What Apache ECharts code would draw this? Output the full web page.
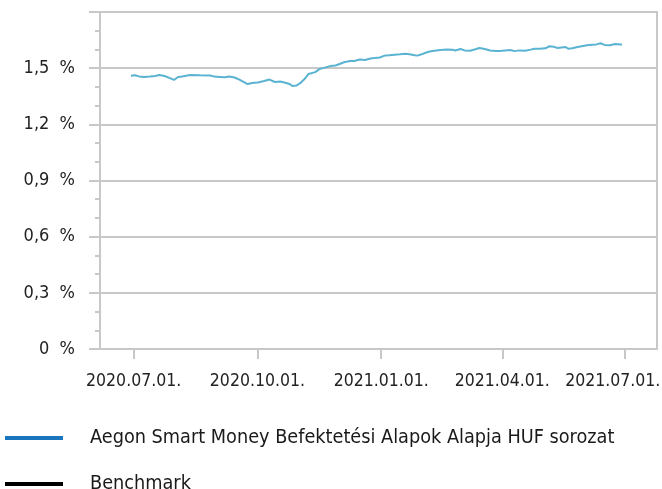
<!DOCTYPE html>
<html>
<head>
<meta charset="utf-8">
<script src="https://cdn.jsdelivr.net/npm/echarts@6/dist/echarts.min.js"></script>
<style>
  html, body { margin: 0; padding: 0; background: #fff; }
  #chart { width: 662px; height: 489px; }
</style>
</head>
<body>
<div id="chart"></div>
<script>
// dátumok és értékek (%)
const dates = [
  '2020-06-29', '2020-07-02', '2020-07-05', '2020-07-09', '2020-07-13', '2020-07-17', '2020-07-20', '2020-07-24',
  '2020-07-28', '2020-07-31', '2020-08-03', '2020-08-06', '2020-08-12', '2020-08-19', '2020-08-27', '2020-08-30',
  '2020-09-03', '2020-09-07', '2020-09-10', '2020-09-14', '2020-09-18', '2020-09-22', '2020-09-24', '2020-09-27',
  '2020-10-01', '2020-10-03', '2020-10-06', '2020-10-10', '2020-10-14', '2020-10-18', '2020-10-21', '2020-10-25',
  '2020-10-27', '2020-10-30', '2020-11-02', '2020-11-05', '2020-11-08', '2020-11-13', '2020-11-16', '2020-11-20',
  '2020-11-24', '2020-11-28', '2020-12-01', '2020-12-05', '2020-12-09', '2020-12-12', '2020-12-16', '2020-12-20',
  '2020-12-24', '2020-12-27', '2020-12-31', '2021-01-04', '2021-01-07', '2021-01-11', '2021-01-15', '2021-01-19',
  '2021-01-22', '2021-01-26', '2021-01-28', '2021-01-31', '2021-02-04', '2021-02-08', '2021-02-14', '2021-02-19',
  '2021-02-23', '2021-02-25', '2021-02-26', '2021-03-01', '2021-03-04', '2021-03-08', '2021-03-12', '2021-03-15',
  '2021-03-19', '2021-03-23', '2021-03-27', '2021-03-30', '2021-04-03', '2021-04-07', '2021-04-10', '2021-04-14',
  '2021-04-18', '2021-04-22', '2021-04-25', '2021-04-29', '2021-05-03', '2021-05-06', '2021-05-09', '2021-05-12',
  '2021-05-15', '2021-05-18', '2021-05-20', '2021-05-23', '2021-05-27', '2021-05-30', '2021-06-03', '2021-06-07',
  '2021-06-10', '2021-06-13', '2021-06-16', '2021-06-20', '2021-06-24', '2021-06-28', '2021-06-29'
]
const fundValues = [
  1.460, 1.462, 1.456, 1.453, 1.455, 1.458, 1.463, 1.458,
  1.447, 1.437, 1.453, 1.455, 1.463, 1.462, 1.461, 1.455,
  1.453, 1.451, 1.455, 1.450, 1.437, 1.421, 1.415, 1.421,
  1.423, 1.426, 1.431, 1.439, 1.426, 1.429, 1.423, 1.415,
  1.405, 1.407, 1.421, 1.442, 1.469, 1.479, 1.495, 1.503,
  1.511, 1.514, 1.522, 1.533, 1.538, 1.538, 1.546, 1.544,
  1.552, 1.554, 1.557, 1.568, 1.569, 1.572, 1.574, 1.577,
  1.574, 1.569, 1.567, 1.574, 1.585, 1.592, 1.597, 1.600,
  1.599, 1.594, 1.586, 1.602, 1.595, 1.593, 1.601, 1.608,
  1.602, 1.594, 1.592, 1.592, 1.595, 1.597, 1.591, 1.595,
  1.593, 1.599, 1.604, 1.604, 1.606, 1.617, 1.615, 1.608,
  1.611, 1.613, 1.604, 1.606, 1.613, 1.617, 1.622, 1.625,
  1.627, 1.633, 1.624, 1.622, 1.629, 1.627, 1.625
]
const benchmarkValues = []
const xTickDates = ['2020-07-01', '2020-10-01', '2021-01-01', '2021-04-01', '2021-07-01']
const seriesNames = ['Aegon Smart Money Befektetési Alapok Alapja HUF sorozat', 'Benchmark']

const toTime = (s) => new Date(s + 'T00:00:00').getTime()
const xTicks = xTickDates.map(toTime)
const pad = (n) => String(n).padStart(2, '0')
const fmtDate = (v) => {
  const d = new Date(v)
  const txt = d.getFullYear() + '.' + pad(d.getMonth() + 1) + '.' + pad(d.getDate()) + '.'
  // az utolsó címke befelé tolva, hogy kiférjen
  return v === xTicks[xTicks.length - 1] ? '{last|' + txt + '}' : txt
}

const font = "'DejaVu Sans Condensed', 'Liberation Sans Narrow', sans-serif"
const gray = '#c8c8c8'

// egy-egy jelmagyarázat sor
const legendRow = (top, name, color, textPad) => ({
  orient: 'vertical',
  left: 5,
  top: top,
  padding: 0,
  icon: 'rect',
  itemWidth: 58,
  itemHeight: 4,
  textStyle: { fontFamily: font, fontSize: 19.7, lineHeight: 14, color: '#1a1a1a', padding: textPad },
  data: [{ name: name, itemStyle: { color: color } }],
})

const chart = echarts.init(document.getElementById('chart'))

chart.setOption({
  animation: false,
  grid: {
    left: 100,
    right: 5,
    top: 12,
    bottom: 140,
    outerBoundsMode: 'none',
    show: true,
    borderColor: gray,
    borderWidth: 2,
  },
  legend: [
    legendRow(428, seriesNames[0], '#1a75bc', [0, 0, 0, 22]),
    legendRow(474, seriesNames[1], '#000', [0, 0, 6, 22]),
  ],
  xAxis: {
    type: 'value',
    min: toTime('2020-06-06'),
    max: toTime('2021-07-25'),
    axisLine: { lineStyle: { color: gray, width: 2 } },
    axisTick: { show: true, length: 10, customValues: xTicks, lineStyle: { color: gray, width: 2 } },
    axisLabel: {
      customValues: xTicks,
      margin: 23,
      fontFamily: font,
      fontSize: 17.5,
      color: '#222',
      formatter: fmtDate,
      rich: {
        last: { fontFamily: font, fontSize: 17.5, color: '#222', padding: [0, 24, 0, 0] },
      },
    },
    splitLine: { show: false },
  },
  yAxis: {
    type: 'value',
    min: 0,
    max: 1.8,
    interval: 0.3,
    axisLine: { show: true, lineStyle: { color: gray, width: 2 } },
    axisTick: { show: true, length: 11, lineStyle: { color: gray, width: 2 } },
    minorTick: { show: true, splitNumber: 3, length: 5, lineStyle: { color: gray, width: 2 } },
    axisLabel: {
      showMaxLabel: false,
      margin: 25,
      fontFamily: font,
      fontSize: 18,
      color: '#222',
      formatter: (v) => (v === 0 ? '0' : v.toFixed(1).replace('.', ',')) + '  %',
    },
    splitLine: { show: true, lineStyle: { color: gray, width: 2 } },
  },
  series: [
    {
      name: seriesNames[0],
      type: 'line',
      data: dates.map((d, i) => [toTime(d), fundValues[i]]),
      showSymbol: false,
      lineStyle: { color: '#5ab3d1', width: 2 },
      itemStyle: { color: '#1a75bc' },
    },
    {
      name: seriesNames[1],
      type: 'line',
      data: benchmarkValues,
      showSymbol: false,
      lineStyle: { color: '#000', width: 2 },
      itemStyle: { color: '#000' },
    },
  ],
})
</script>
</body>
</html>
